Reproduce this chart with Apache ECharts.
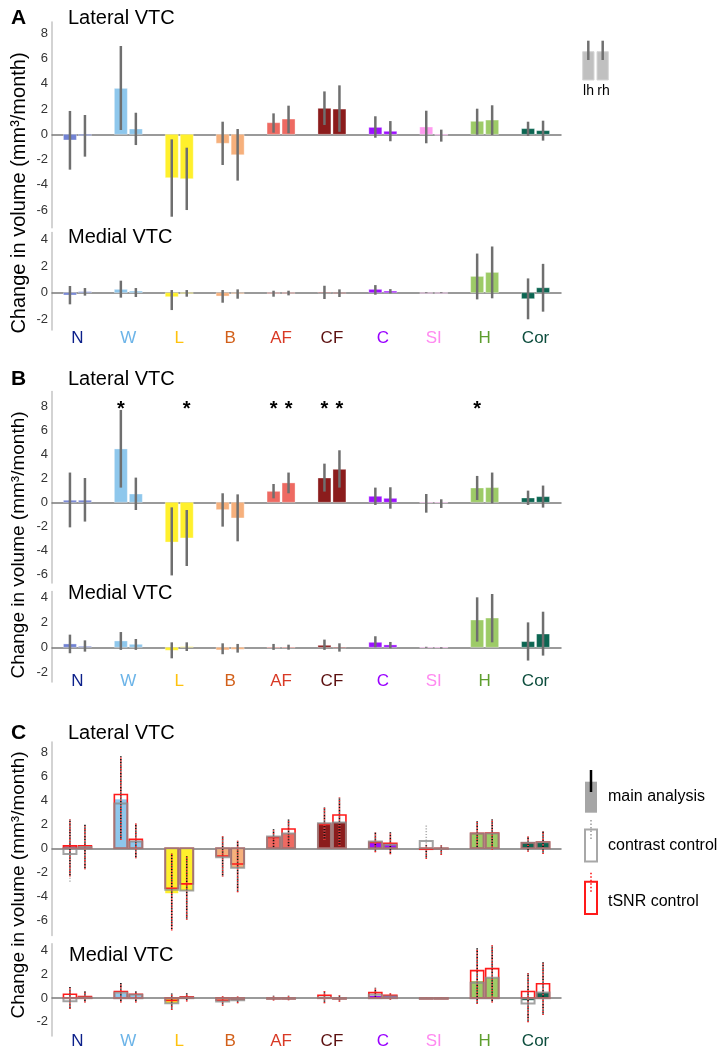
<!DOCTYPE html>
<html><head><meta charset="utf-8">
<script src="https://cdn.jsdelivr.net/npm/echarts@6/dist/echarts.min.js"></script>
<style>html,body{margin:0;padding:0;background:#fff}#c{width:727px;height:1050px}</style>
</head><body><div id="c"></div>
<script>
const categories = ['N','W','L','B','AF','CF','C','SI','H','Cor'];
const yTickLabels = [-6,-4,-2,0,2,4,6,8];

// ---------- Panel A (lateral / medial) ----------
const aLatLh    = [-0.45, 3.64, -3.44, -0.71, 0.92, 2.06, 0.55, 0.58, 1.03, 0.45];
const aLatLhErr = [[-2.8,1.85],[0.34,7.0],[-6.53,-0.4],[-2.43,1.0],[0.13,1.66],[0.74,3.4],[-0.27,1.43],[-0.71,1.87],[-0.03,2.03],[-0.13,1.0]];
const aLatRh    = [-0.1, 0.42, -3.52, -1.62, 1.21, 2.0, 0.24, -0.07, 1.13, 0.29];
const aLatRhErr = [[-1.77,1.53],[-0.85,1.71],[-6.0,-1.06],[-3.67,0.42],[0.08,2.27],[0.2,3.88],[-0.55,1.05],[-0.58,0.37],[-0.05,2.3],[-0.5,1.08]];

const aMedLh    = [-0.17, 0.25, -0.3, -0.25, -0.05, 0.03, 0.25, 0.0, 1.22, -0.45];
const aMedLhErr = [[-0.87,0.5],[-0.37,0.9],[-1.3,0.2],[-0.75,0.2],[-0.3,0.15],[-0.47,0.52],[-0.15,0.57],[-0.03,0.03],[-0.5,2.93],[-1.99,1.07]];
const aMedRh    = [0.08, 0.12, -0.05, -0.07, -0.03, -0.05, 0.12, 0.0, 1.52, 0.37];
const aMedRhErr = [[-0.22,0.35],[-0.32,0.35],[-0.3,0.2],[-0.45,0.25],[-0.2,0.15],[-0.32,0.25],[-0.05,0.27],[-0.03,0.03],[-0.42,3.46],[-1.42,2.16]];

// ---------- Panel B ----------
const bLatLh    = [0.17, 4.43, -3.3, -0.61, 0.91, 2.02, 0.5, -0.05, 1.19, 0.36];
const bLatLhErr = [[-2.08,2.47],[1.22,7.67],[-6.07,-0.42],[-2.02,0.75],[0.33,1.52],[0.89,3.21],[-0.22,1.22],[-0.86,0.69],[0.19,2.19],[-0.22,0.97]];
const bLatRh    = [0.17, 0.69, -2.96, -1.3, 1.61, 2.74, 0.33, -0.05, 1.22, 0.47];
const bLatRhErr = [[-1.6,2.02],[-0.64,2.05],[-5.29,-0.64],[-3.24,0.66],[0.75,2.47],[1.22,4.32],[-0.53,1.25],[-0.47,0.25],[-0.08,2.47],[-0.44,1.39]];
const bLatSigLh = [0,1,0,0,1,1,0,0,1,0];
const bLatSigRh = [0,0,1,0,1,1,0,0,0,0];

const bMedLh    = [0.27, 0.51, -0.24, -0.21, 0.0, 0.16, 0.4, 0.0, 2.2, 0.46];
const bMedLhErr = [[-0.48,1.02],[-0.21,1.23],[-0.89,0.4],[-0.56,0.32],[-0.21,0.27],[-0.21,0.62],[0.0,0.89],[-0.04,0.04],[0.46,4.03],[-1.07,2.01]];
const bMedRh    = [0.08, 0.24, 0.05, -0.16, 0.0, -0.05, 0.19, -0.05, 2.36, 1.07];
const bMedRhErr = [[-0.35,0.56],[-0.21,0.67],[-0.3,0.4],[-0.43,0.27],[-0.19,0.21],[-0.35,0.32],[-0.08,0.43],[-0.1,0.0],[0.4,4.3],[-0.67,2.87]];

// ---------- Panel C (main / contrast control / tSNR control) ----------
const cLatMainLh     = [0.17, 4.1, -3.76, -0.7, 0.98, 2.09, 0.5, -0.05, 1.25, 0.47];
const cLatContrastLh = [-0.47, 3.76, -3.48, -0.75, 0.98, 2.09, 0.56, 0.61, 1.25, 0.47];
const cLatTsnrLh     = [0.2, 4.51, -3.35, -0.64, 0.9, 2.0, 0.5, -0.08, 1.25, 0.47];
const cLatDotsLh     = [[-2.37,2.45],[0.7,7.72],[-6.88,-0.42],[-2.37,1.03],[0,1.59],[0.7,3.43],[-0.33,1.34],[-0.89,0.3],[0,2.29],[-0.28,0.98]];
const cLatGrayDotsLh = [[-2.79,2.0],[0.7,7.3],[-6.5,-0.5],[-2.37,1.03],[0,1.59],[0.7,3.43],[-0.33,1.2],[-0.3,1.95],[0,2.29],[-0.28,0.98]];
const cLatMainRh     = [0.1, 0.6, -3.54, -1.62, 1.25, 2.17, 0.33, -0.05, 1.25, 0.5];
const cLatContrastRh = [0.1, 0.56, -3.54, -1.62, 1.25, 2.17, 0.3, -0.06, 1.25, 0.5];
const cLatTsnrRh     = [0.2, 0.75, -2.98, -1.31, 1.62, 2.79, 0.42, -0.05, 1.28, 0.53];
const cLatDotsRh     = [[-1.76,2.0],[-0.84,2.09],[-5.99,-0.64],[-3.68,0.64],[0.08,2.42],[0.2,4.26],[-0.5,1.34],[-0.56,0.28],[-0.14,2.45],[-0.47,1.45]];

const cMedMainLh     = [0.05, 0.39, -0.42, -0.28, -0.05, 0.1, 0.19, -0.03, 1.45, -0.17];
const cMedContrastLh = [-0.25, 0.45, -0.42, -0.28, -0.05, 0.05, 0.3, -0.03, 1.3, -0.44];
const cMedTsnrLh     = [0.33, 0.56, -0.19, -0.17, -0.03, 0.25, 0.47, -0.03, 2.33, 0.56];
const cMedDotsLh     = [[-0.92,0.94],[-0.36,1.3],[-1.0,0.42],[-0.64,0.19],[-0.2,0.2],[-0.42,0.61],[0,0.89],[-0.05,0.05],[-0.5,4.22],[-2.03,2.14]];
const cMedMainRh     = [0.08, 0.24, 0.05, -0.17, -0.03, -0.05, 0.19, -0.03, 1.72, 0.47];
const cMedContrastRh = [0.05, 0.28, 0.05, -0.17, -0.03, -0.05, 0.15, -0.03, 1.72, 0.47];
const cMedTsnrRh     = [0.14, 0.33, 0.11, -0.1, -0.03, -0.05, 0.25, -0.03, 2.5, 1.22];
const cMedDotsRh     = [[-0.36,0.61],[-0.36,0.61],[-0.28,0.42],[-0.42,0.14],[-0.17,0.2],[-0.3,0.25],[-0.14,0.42],[-0.05,0.05],[-0.36,4.5],[-1.42,3.03]];

// ---------- styles ----------
const FONT = 'Liberation Sans, Arial, Helvetica, sans-serif';
const BAR_COLORS = ['#7182d4','#8ec7ec','#fff02c','#f6b07c','#ee6a62','#8b1c1c','#9d10ff','#ff9cf0','#9dcb67','#0c6652'];
const LABEL_COLORS = ['#0b1f8a','#6cb4e8','#ffc20e','#d2601a','#d93a26','#5c1010','#9900ff','#ff8af0','#5e9e2e','#0d4d3d'];
const OFF = 7.5, BW = 13;
const ERR_COLOR = '#6f6f6f';

const GRIDS = [
  {top: 22.0,  height: 205.7, min: -7.4, max: 8.9, medial: false},
  {top: 232.6, height: 97.5,  min: -2.8, max: 4.5, medial: true, labelMargin: 0},
  {top: 391.5, height: 191.5, min: -6.7, max: 9.2, medial: false},
  {top: 591.5, height: 90.5,  min: -2.8, max: 4.5, medial: true, labelMargin: -9.5},
  {top: 742.0, height: 193.5, min: -7.3, max: 8.9, medial: false},
  {top: 943.8, height: 93.6,  min: -3.2, max: 4.6, medial: true, labelMargin: -3}
];

const grid = [], xAxis = [], yAxis = [], series = [];
const zeroAxisOf = [];
GRIDS.forEach((g, gi) => {
  grid.push({left: 52, width: 509, top: g.top, height: g.height});
  zeroAxisOf.push(xAxis.length);
  xAxis.push({type: 'category', gridIndex: gi, data: categories, position: 'top',
    axisLine: {show: true, onZero: true, lineStyle: {color: '#7a7a7a', width: 1.5}},
    axisTick: {show: false}, axisLabel: {show: false}, splitLine: {show: false}});
  if (g.medial) {
    xAxis.push({type: 'category', gridIndex: gi, position: 'bottom',
      data: categories.map((c, i) => ({value: c, textStyle: {color: LABEL_COLORS[i]}})),
      axisLine: {show: false, onZero: false}, axisTick: {show: false},
      axisLabel: {margin: g.labelMargin, verticalAlign: 'middle', fontSize: 17, fontFamily: FONT}});
  }
  yAxis.push({type: 'value', gridIndex: gi, min: g.min, max: g.max, interval: 0.1,
    axisLine: {show: true, onZero: false, lineStyle: {color: '#c4c4c4', width: 1.5}},
    axisTick: {show: false}, splitLine: {show: false},
    axisLabel: {margin: 4, fontSize: 13, color: '#333', fontFamily: FONT,
      formatter: v => { const r = Math.round(v); return (Math.abs(v - r) < 1e-6 && yTickLabels.includes(r) && r <= g.max && r >= g.min) ? String(r) : ''; }}});
});

function barSeries(gi, lh, lhErr, rh, rhErr) {
  const data = [];
  categories.forEach((c, i) => {
    data.push([i, lh[i], lhErr[i][0], lhErr[i][1], 0]);
    data.push([i, rh[i], rhErr[i][0], rhErr[i][1], 1]);
  });
  return {type: 'custom', xAxisIndex: zeroAxisOf[gi], yAxisIndex: gi, data,
    encode: {x: 0, y: 1}, silent: true,
    renderItem: (params, api) => {
      const c = api.value(0), v = api.value(1), lo = api.value(2), hi = api.value(3), h = api.value(4);
      const b = api.coord([c, 0]), t = api.coord([c, v]);
      const xc = b[0] + (h === 0 ? -OFF : OFF);
      const pl = api.coord([c, lo]), ph = api.coord([c, hi]);
      return {type: 'group', children: [
        {type: 'rect', shape: {x: xc - BW / 2, y: Math.min(b[1], t[1]), width: BW, height: Math.max(Math.abs(b[1] - t[1]), 0.6)},
          style: {fill: BAR_COLORS[c], stroke: 'rgba(255,255,255,0.35)', lineWidth: 1}},
        {type: 'line', shape: {x1: xc, y1: pl[1], x2: xc, y2: ph[1]}, style: {stroke: ERR_COLOR, lineWidth: 2.5}}
      ]};
    }};
}

function controlSeries(gi, mainL, conL, tsL, dotsL, grayL, mainR, conR, tsR, dotsR, grayR) {
  const data = [];
  categories.forEach((c, i) => {
    data.push([i, mainL[i], conL[i], tsL[i], dotsL[i][0], dotsL[i][1], grayL[i][0], grayL[i][1], 0]);
    data.push([i, mainR[i], conR[i], tsR[i], dotsR[i][0], dotsR[i][1], grayR[i][0], grayR[i][1], 1]);
  });
  return {type: 'custom', xAxisIndex: zeroAxisOf[gi], yAxisIndex: gi, data,
    encode: {x: 0, y: 1}, silent: true,
    renderItem: (params, api) => {
      const c = api.value(0), h = api.value(8);
      const b = api.coord([c, 0]);
      const xc = b[0] + (h === 0 ? -OFF : OFF);
      const yOf = v => api.coord([c, v])[1];
      const rect = v => { const y = yOf(v); return {x: xc - BW / 2, y: Math.min(b[1], y), width: BW, height: Math.max(Math.abs(b[1] - y), 0.6)}; };
      return {type: 'group', children: [
        {type: 'rect', shape: rect(api.value(1)), style: {fill: BAR_COLORS[c]}},
        {type: 'line', shape: {x1: xc, y1: yOf(api.value(6)), x2: xc, y2: yOf(api.value(7))},
          style: {stroke: '#b0b0b0', lineWidth: 1.6, lineDash: [1.2, 1.6]}},
        {type: 'line', shape: {x1: xc, y1: yOf(api.value(4)), x2: xc, y2: yOf(api.value(5))},
          style: {stroke: '#ff2020', lineWidth: 1.6, lineDash: [1.2, 1.6]}},
        {type: 'line', shape: {x1: xc, y1: yOf(api.value(4)), x2: xc, y2: yOf(api.value(5))},
          style: {stroke: '#111', lineWidth: 1.6, lineDash: [1.2, 1.6], lineDashOffset: 1.4}},
        {type: 'rect', shape: rect(api.value(3)), style: {fill: 'none', stroke: '#ff1a1a', lineWidth: 1.6}},
        {type: 'rect', shape: rect(api.value(2)), style: {fill: 'none', stroke: 'rgba(140,140,140,0.8)', lineWidth: 2}}
      ]};
    }};
}

function starSeries(gi, sigL, sigR) {
  const data = [];
  categories.forEach((c, i) => {
    if (sigL[i]) data.push([i, 8, 0]);
    if (sigR[i]) data.push([i, 8, 1]);
  });
  return {type: 'custom', xAxisIndex: zeroAxisOf[gi], yAxisIndex: gi, data,
    encode: {x: 0, y: 1}, silent: true,
    renderItem: (params, api) => {
      const c = api.value(0), h = api.value(2);
      const p = api.coord([c, api.value(1)]);
      const xc = p[0] + (h === 0 ? -OFF : OFF);
      return {type: 'text', x: xc, y: p[1] + 4,
        style: {text: '*', fontSize: 20, fontWeight: 'bold', fontFamily: FONT, fill: '#000',
          textAlign: 'center', align: 'center', textVerticalAlign: 'middle', verticalAlign: 'middle'}};
    }};
}

series.push(barSeries(0, aLatLh, aLatLhErr, aLatRh, aLatRhErr));
series.push(barSeries(1, aMedLh, aMedLhErr, aMedRh, aMedRhErr));
series.push(barSeries(2, bLatLh, bLatLhErr, bLatRh, bLatRhErr));
series.push(starSeries(2, bLatSigLh, bLatSigRh));
series.push(barSeries(3, bMedLh, bMedLhErr, bMedRh, bMedRhErr));
series.push(controlSeries(4, cLatMainLh, cLatContrastLh, cLatTsnrLh, cLatDotsLh, cLatGrayDotsLh,
                             cLatMainRh, cLatContrastRh, cLatTsnrRh, cLatDotsRh, cLatDotsRh));
series.push(controlSeries(5, cMedMainLh, cMedContrastLh, cMedTsnrLh, cMedDotsLh, cMedDotsLh,
                             cMedMainRh, cMedContrastRh, cMedTsnrRh, cMedDotsRh, cMedDotsRh));

// ---------- text & legends ----------
const T = (text, x, y, size, opts) => Object.assign({type: 'text', x, y, silent: true,
  style: Object.assign({text, fontSize: size, fontFamily: FONT, fill: '#000',
    textAlign: 'left', align: 'left', textVerticalAlign: 'middle', verticalAlign: 'middle'}, (opts && opts.style) || {})},
  (opts && opts.el) || {});
const center = {textAlign: 'center', align: 'center'};
const YNAME = 'Change in volume (mm\u00b3/month)';
const graphic = [
  T('A', 11, 18, 21, {style: {fontWeight: 'bold'}}),
  T('B', 11, 379, 21, {style: {fontWeight: 'bold'}}),
  T('C', 11, 733, 21, {style: {fontWeight: 'bold'}}),
  T('Lateral VTC', 68, 18, 20), T('Medial VTC', 68, 237, 20),
  T('Lateral VTC', 68, 379, 20), T('Medial VTC', 68, 593, 20),
  T('Lateral VTC', 68, 733, 20), T('Medial VTC', 69, 955, 20),
  T(YNAME, 19, 193, 20, {style: center, el: {rotation: Math.PI / 2}}),
  T(YNAME, 19, 545, 19, {style: center, el: {rotation: Math.PI / 2}}),
  T(YNAME, 19, 885, 19, {style: center, el: {rotation: Math.PI / 2}}),
  // legend A
  {type: 'rect', shape: {x: 582.7, y: 51.7, width: 11.3, height: 28.3}, style: {fill: '#c0c0c0', stroke: '#d6d6d6', lineWidth: 1}},
  {type: 'rect', shape: {x: 597, y: 51.7, width: 11.3, height: 28.3}, style: {fill: '#c0c0c0', stroke: '#d6d6d6', lineWidth: 1}},
  {type: 'line', shape: {x1: 588.3, y1: 40.7, x2: 588.3, y2: 60}, style: {stroke: ERR_COLOR, lineWidth: 2.5}},
  {type: 'line', shape: {x1: 602.7, y1: 40.7, x2: 602.7, y2: 60}, style: {stroke: ERR_COLOR, lineWidth: 2.5}},
  T('lh', 588.5, 91, 14, {style: center}), T('rh', 603.5, 91, 14, {style: center}),
  // legend C
  {type: 'rect', shape: {x: 585, y: 781.7, width: 12, height: 31}, style: {fill: '#a6a6a6'}},
  {type: 'line', shape: {x1: 591, y1: 770, x2: 591, y2: 792}, style: {stroke: '#000', lineWidth: 2.5}},
  T('main analysis', 608, 797, 16),
  {type: 'rect', shape: {x: 585, y: 829.5, width: 12, height: 32}, style: {fill: 'none', stroke: '#a8a8a8', lineWidth: 2}},
  {type: 'line', shape: {x1: 591, y1: 820, x2: 591, y2: 840}, style: {stroke: '#a0a0a0', lineWidth: 1.6, lineDash: [1.5, 2]}},
  T('contrast control', 608, 846, 16),
  {type: 'rect', shape: {x: 585, y: 881.7, width: 12, height: 32.3}, style: {fill: 'none', stroke: '#ff1a1a', lineWidth: 2}},
  {type: 'line', shape: {x1: 591, y1: 872.7, x2: 591, y2: 893}, style: {stroke: '#ff1a1a', lineWidth: 1.6, lineDash: [1.5, 2]}},
  T('tSNR control', 608, 902, 16)
];

const chart = echarts.init(document.getElementById('c'), null, {renderer: 'canvas'});
chart.setOption({animation: false, backgroundColor: '#fff', textStyle: {fontFamily: FONT},
  grid, xAxis, yAxis, series, graphic});
</script>
</body></html>
